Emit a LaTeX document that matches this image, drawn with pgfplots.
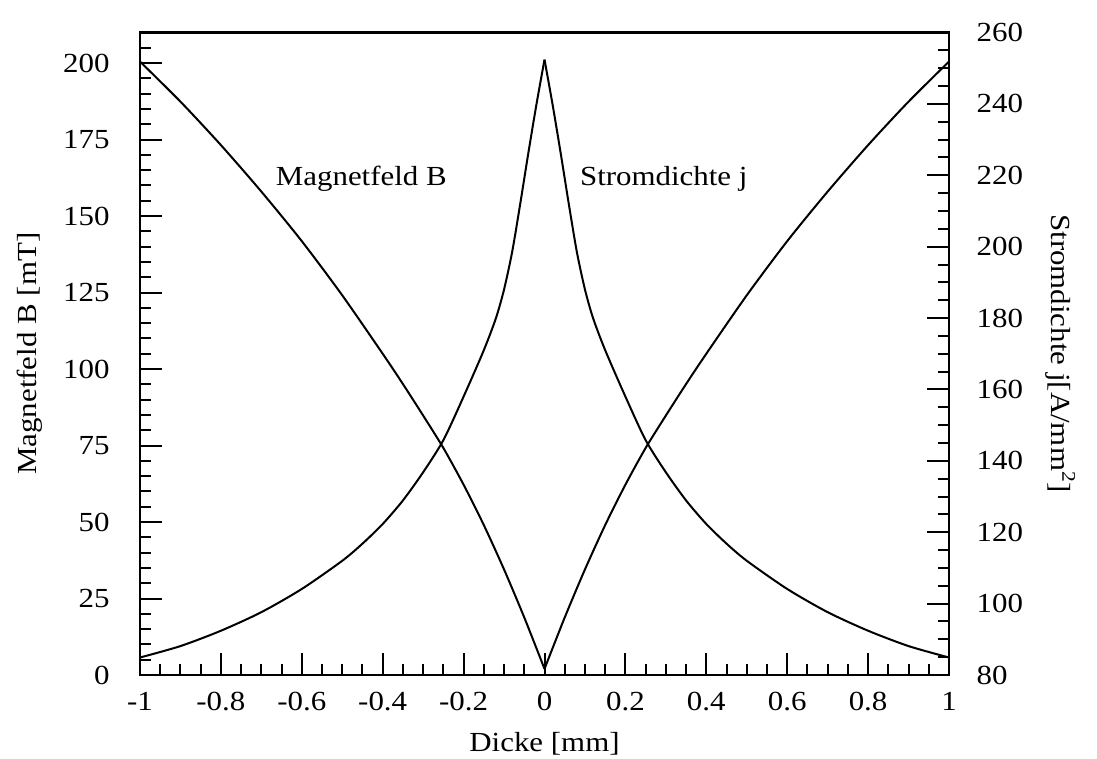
\documentclass[border=0pt]{standalone}
\usepackage{fontspec}
\setmainfont{Liberation Serif}[FakeStretch=1.12]
\usepackage{pgfplots}
\usepackage{pgfplotstable}
\pgfplotsset{compat=1.18}
\newcommand{\myfont}{\fontsize{13.8pt}{16pt}\selectfont}

% Magnetfeld B, left branch
\pgfplotstableread{
x B
-1 200.5
-0.9 187.4
-0.8 173.2
-0.7 158.0
-0.6 141.8
-0.5 124.1
-0.4 105.0
-0.35 95.1
-0.3 84.8
-0.25 74.2
-0.2 62.2
-0.15 49.0
-0.1 34.5
-0.05 18.8
0 2
}\Bleft
% Magnetfeld B, right branch
\pgfplotstableread{
x B
0 2
0.05 18.8
0.1 34.5
0.15 49.0
0.2 62.2
0.25 74.2
0.3 84.8
0.35 95.1
0.4 105.0
0.5 124.1
0.6 141.8
0.7 158.0
0.8 173.2
0.9 187.4
1 200.5
}\Bright
% Stromdichte j, left branch
\pgfplotstableread{
x j
-1 84.9
-0.9 88.1
-0.8 92.4
-0.7 97.6
-0.6 104.1
-0.5 112.0
-0.45 116.8
-0.4 122.3
-0.35 128.9
-0.3 136.8
-0.25 145.8
-0.2 158.0
-0.15 171.0
-0.12 180.0
-0.1 188.0
-0.08 198.5
-0.06 212
-0.04 226.2
-0.02 239.8
0 252.4
}\jleft
% Stromdichte j, right branch
\pgfplotstableread{
x j
0 252.4
0.02 239.8
0.04 226.2
0.06 212
0.08 198.5
0.1 188.0
0.12 180.0
0.15 171.0
0.2 158.0
0.25 145.8
0.3 136.8
0.35 128.9
0.4 122.3
0.45 116.8
0.5 112.0
0.6 104.1
0.7 97.6
0.8 92.4
0.9 88.1
1 84.9
}\jright

\begin{document}
\myfont
\begin{tikzpicture}
\path[use as bounding box] (-70pt,-42pt) rectangle (478.5pt,337.5pt);
\pgfplotsset{
  common/.style={
    scale only axis, width=404.5pt, height=321.25pt,
    at={(0,0)}, anchor=south west,
    xmin=-1, xmax=1,
    tick align=inside,
    major tick length=11pt, minor tick length=5.3pt,
    every major tick/.append style={black, line width=1pt},
    every minor tick/.append style={black, line width=1pt},
    axis line style={black, line width=1.4pt},
    /pgf/number format/assume math mode=true,
    tick label style={font=\myfont, black},
    label style={font=\myfont, black},
  },
  curve/.style={black, line width=1pt, mark=none, smooth, tension=0.45},
}
\begin{axis}[common,
  ymin=0, ymax=210,
  ytick={0,25,...,200},
  minor ytick={0,5,...,210},
  ytick pos=left,
  yticklabel style={anchor=east, xshift=-10.4pt},
  xtick={-1,-0.8,-0.6,-0.4,-0.2,0,0.2,0.4,0.6,0.8,1},
  xticklabels={-1,-0.8,-0.6,-0.4,-0.2,0,0.2,0.4,0.6,0.8,1},
  minor xtick={-0.95,-0.9,-0.85,-0.75,-0.7,-0.65,-0.55,-0.5,-0.45,-0.35,-0.3,-0.25,-0.15,-0.1,-0.05,0.05,0.1,0.15,0.25,0.3,0.35,0.45,0.5,0.55,0.65,0.7,0.75,0.85,0.9,0.95},
  xtick pos=bottom,
  xticklabel style={anchor=north, yshift=-4pt},
  xlabel={Dicke [mm]},
  xlabel style={at={(axis description cs:0.5,-0.1198)}, anchor=base},
  ylabel={Magnetfeld B [mT]},
  ylabel style={at={(axis description cs:-0.1277,0.5)}, anchor=base},
]
\addplot[curve] table[x=x, y=B] {\Bleft};
\addplot[curve] table[x=x, y=B] {\Bright};
\node[font=\myfont, inner sep=0pt, anchor=base west] at (axis cs:-0.665,160) {Magnetfeld B};
\node[font=\myfont, inner sep=0pt, anchor=base west] at (axis cs:0.087,160) {Stromdichte j};
\end{axis}
\begin{axis}[common,
  ymin=80, ymax=260,
  ytick={80,100,...,260},
  minor ytick={80,85,...,260},
  ytick pos=right,
  yticklabel pos=right,
  yticklabel style={anchor=west, xshift=9pt},
  xtick=\empty,
  ylabel={Stromdichte j[A/mm\textsuperscript{2}]},
  ylabel style={at={(axis description cs:1.1273,0.5)}, anchor=base, rotate=180},
]
\addplot[curve] table[x=x, y=j] {\jleft};
\addplot[curve] table[x=x, y=j] {\jright};
\end{axis}
\end{tikzpicture}
\end{document}
